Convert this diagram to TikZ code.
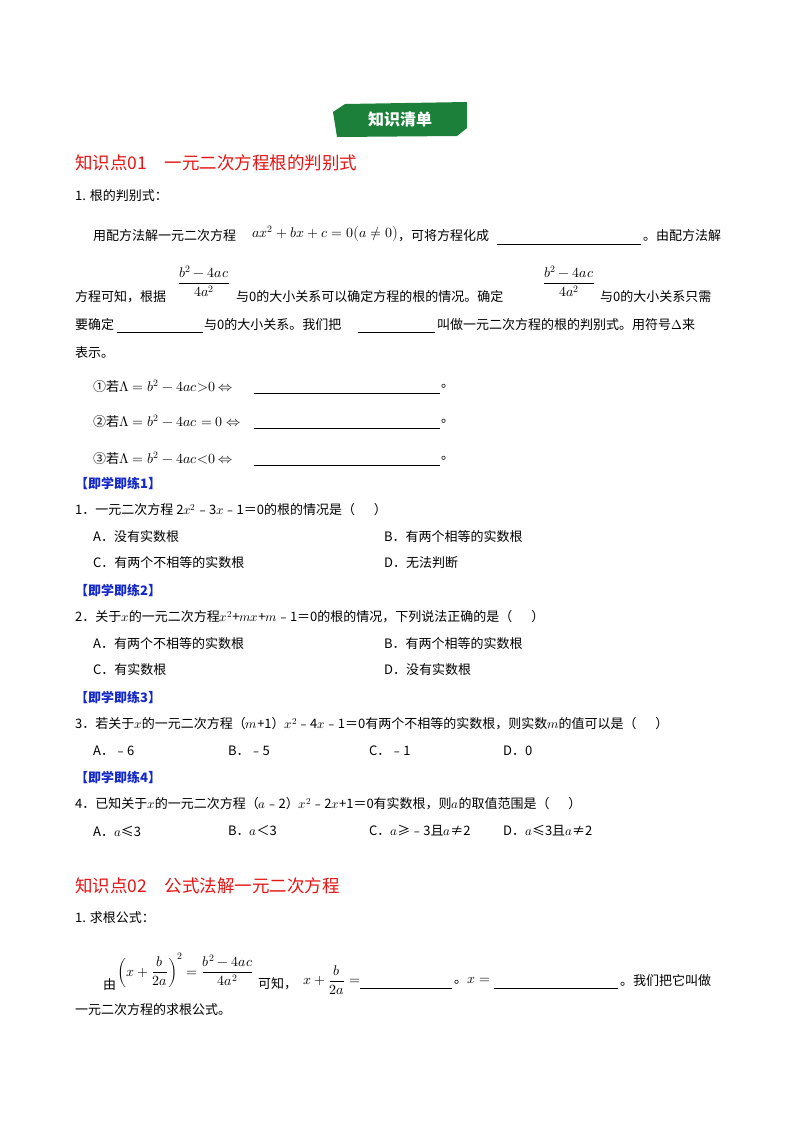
\documentclass[tikz,border=0pt]{standalone}
\usepackage{amsmath}
\usepackage{fontspec}
\usepackage{unicode-math}
\setmainfont{Liberation Serif}
\setmathfont{Latin Modern Math}
\newfontfamily\cjk{Noto Sans CJK SC}
\definecolor{hred}{RGB}{230,20,20}
\definecolor{hblue}{RGB}{20,40,200}
\definecolor{bgreen}{RGB}{28,128,58}
\begin{document}
\begin{tikzpicture}[x=1pt,y=-1pt,
  t/.style={anchor=west,inner sep=0pt,font=\cjk\fontsize{13}{15}\selectfont},
  hd/.style={anchor=west,inner sep=0pt,text=hred,font=\cjk\fontsize{17.5}{20}\selectfont},
  lx/.style={anchor=west,inner sep=0pt,text=hblue,font=\cjk\bfseries\fontsize{13}{15}\selectfont},
  mt/.style={inner sep=0pt,font=\fontsize{14}{16}\selectfont},
  bl/.style={line width=0.8pt}]
\useasboundingbox (0,0) rectangle (800,1132);
% badge
\fill[bgreen] (345,104) -- (467,102) -- (467,128) -- (457,136) -- (337,137) -- (333,112) -- cycle;
\node[inner sep=0pt,text=white,font=\cjk\bfseries\fontsize{16}{18}\selectfont] (badge) at (400,119) {知识清单};
\node[hd] (h1) at (75,163) {知识点01\quad 一元二次方程根的判别式};
\node[t] (l1) at (75,196) {1. 根的判别式：};
\node[t] (a1) at (93,236) {用配方法解一元二次方程};
\node[mt,anchor=west] (a2) at (252,234) {$ax^2+bx+c=0\big(a\neq 0\big)$};
\node[t] (a3) at (398,236) {，可将方程化成};
\draw[bl] (497,244) -- (641,244);
\node[t] (a4) at (643,236) {。由配方法解};
\node[mt] (f1) at (204,281) {$\dfrac{b^2-4ac}{4a^2}$};
\node[mt] (f2) at (569,281) {$\dfrac{b^2-4ac}{4a^2}$};
\node[t] (b1) at (75,297) {方程可知，根据};
\node[t] (b2) at (236,297) {与0的大小关系可以确定方程的根的情况。确定};
\node[t] (b3) at (600,297) {与0的大小关系只需};
\node[t] (c1) at (75,325) {要确定};
\draw[bl] (117,332) -- (203,332);
\node[t] (c2) at (204,325) {与0的大小关系。我们把};
\draw[bl] (358,332) -- (435,332);
\node[t] (c3) at (437,325) {叫做一元二次方程的根的判别式。用符号$\Delta$来};
\node[t] (d1) at (75,353) {表示。};
\node[t] (e1) at (93,386) {①若\fontsize{14}{16}\selectfont$\Lambda=b^2-4ac{>}0\Leftrightarrow$};
\draw[bl] (254,393) -- (440,393);
\node[t] (e1e) at (441,386) {。};
\node[t] (e2) at (93,421) {②若\fontsize{14}{16}\selectfont$\Lambda=b^2-4ac=0\Leftrightarrow$};
\draw[bl] (254,428) -- (440,428);
\node[t] (e2e) at (441,421) {。};
\node[t] (e3) at (93,458) {③若\fontsize{14}{16}\selectfont$\Lambda=b^2-4ac{<}0\Leftrightarrow$};
\draw[bl] (254,465) -- (440,465);
\node[t] (e3e) at (441,458) {。};
\node[lx] (x1) at (75,483) {【即学即练1】};
\node[t] (q1) at (75,510) {1．一元二次方程 2$x^2$﹣3$x$﹣1＝0的根的情况是（\quad\ \ ）};
\node[t] (q1a) at (93,537) {A．没有实数根};
\node[t] (q1b) at (384,537) {B．有两个相等的实数根};
\node[t] (q1c) at (93,563) {C．有两个不相等的实数根};
\node[t] (q1d) at (384,563) {D．无法判断};
\node[lx] (x2) at (75,590) {【即学即练2】};
\node[t] (q2) at (75,617) {2．关于$x$的一元二次方程$x^2$+$mx$+$m$﹣1＝0的根的情况，下列说法正确的是（\quad\ \ ）};
\node[t] (q2a) at (93,644) {A．有两个不相等的实数根};
\node[t] (q2b) at (384,644) {B．有两个相等的实数根};
\node[t] (q2c) at (93,670) {C．有实数根};
\node[t] (q2d) at (384,670) {D．没有实数根};
\node[lx] (x3) at (75,697) {【即学即练3】};
\node[t] (q3) at (75,724) {3．若关于$x$的一元二次方程（$m$+1）$x^2$﹣4$x$﹣1＝0有两个不相等的实数根，则实数$m$的值可以是（\quad\ \ ）};
\node[t] (q3a) at (93,751) {A．﹣6};
\node[t] (q3b) at (228,751) {B．﹣5};
\node[t] (q3c) at (369,751) {C．﹣1};
\node[t] (q3d) at (503,751) {D．0};
\node[lx] (x4) at (75,777) {【即学即练4】};
\node[t] (q4) at (75,804) {4．已知关于$x$的一元二次方程（$a$﹣2）$x^2$﹣2$x$+1＝0有实数根，则$a$的取值范围是（\quad\ \ ）};
\node[t] (q4a) at (93,831) {A．$a$≤3};
\node[t] (q4b) at (228,831) {B．$a$＜3};
\node[t] (q4c) at (369,831) {C．$a$≥﹣3且$a$≠2};
\node[t] (q4d) at (503,831) {D．$a$≤3且$a$≠2};
\node[hd] (h2) at (75,886) {知识点02\quad 公式法解一元二次方程};
\node[t] (g1) at (75,918) {1. 求根公式：};
\node[t] (g2) at (103,985) {由};
\node[mt,anchor=west] (g3) at (117,970) {$\left(x+\dfrac{b}{2a}\right)^{2}=\dfrac{b^2-4ac}{4a^2}$};
\node[t] (g4) at (258,984) {可知，};
\node[mt,anchor=west] (g5) at (303,980) {$x+\dfrac{b}{2a}=$};
\draw[bl] (360,988) -- (452,988);
\node[t] (g6) at (454,981) {。\fontsize{14}{16}\selectfont$x=$};
\draw[bl] (494,988) -- (618,988);
\node[t] (g7) at (620,981) {。我们把它叫做};
\node[t] (g8) at (75,1010) {一元二次方程的求根公式。};
\end{tikzpicture}
\end{document}
